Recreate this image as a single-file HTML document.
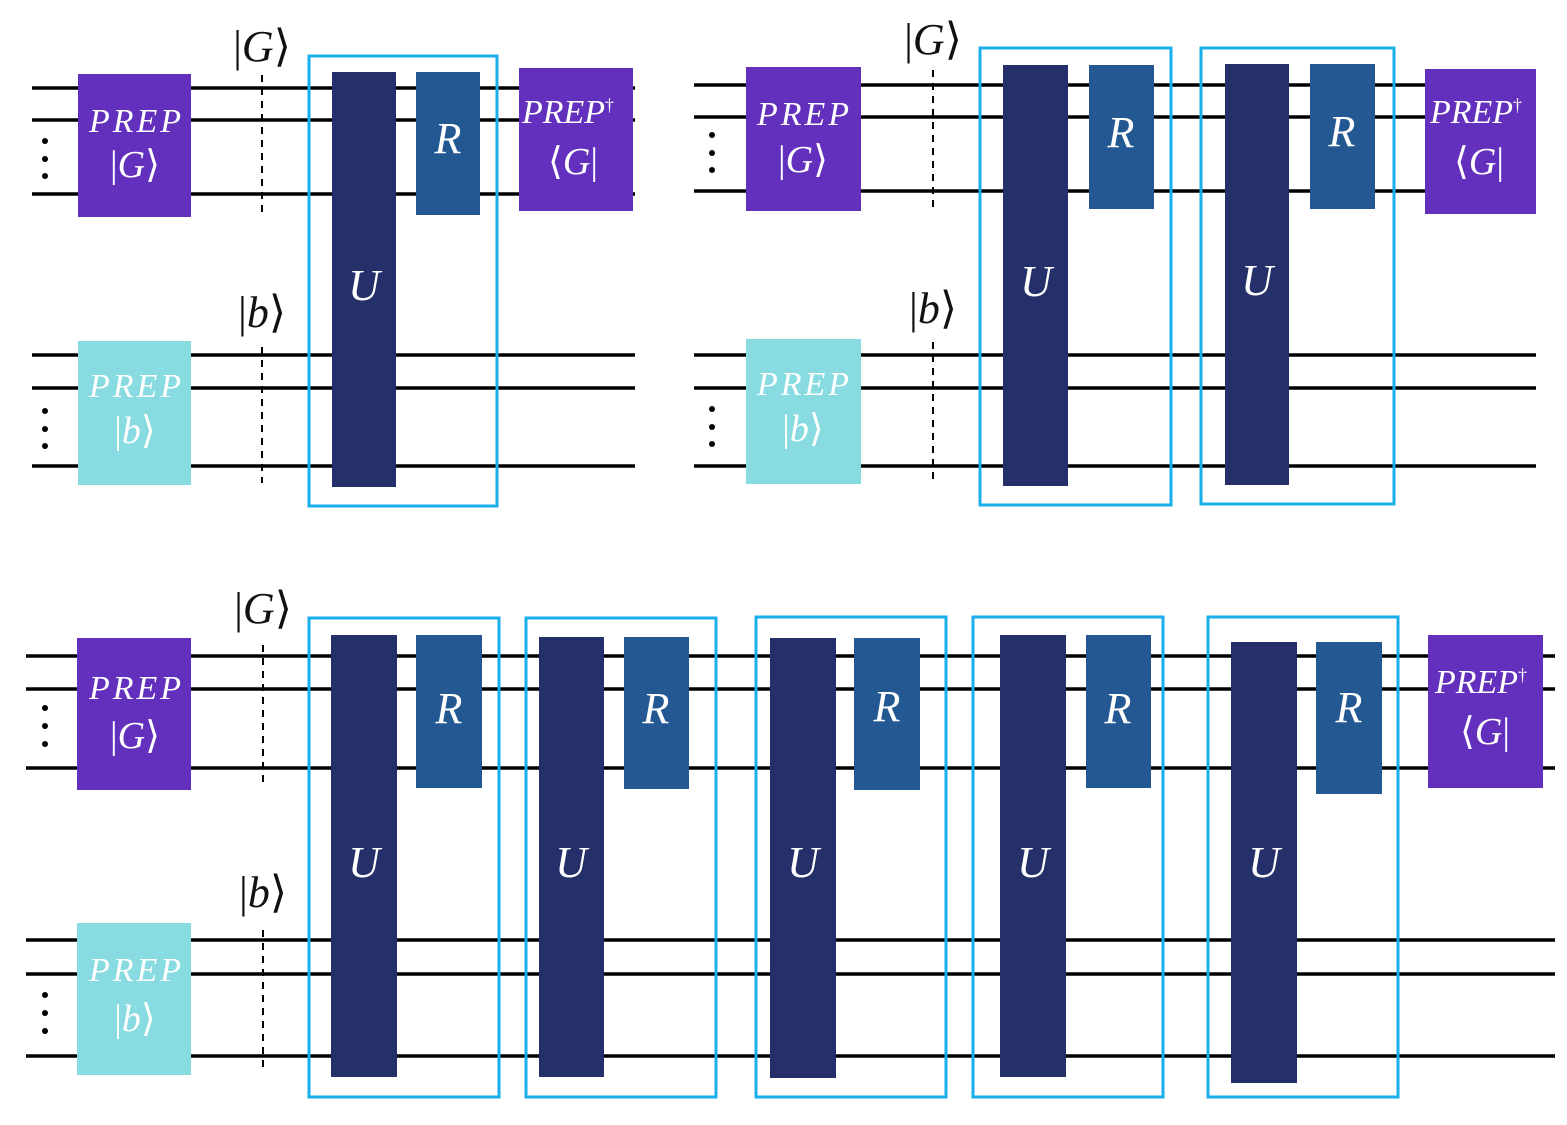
<!DOCTYPE html>
<html><head><meta charset="utf-8"><style>
html,body{margin:0;padding:0;background:#fff;}
svg{display:block}
text{font-family:"Liberation Serif","DejaVu Serif",serif;font-style:italic;text-anchor:middle}
.w{fill:#fff}
.k{fill:#111;font-style:normal}
</style></head><body>
<svg width="1567" height="1125" viewBox="0 0 1567 1125" xmlns="http://www.w3.org/2000/svg">
<g stroke="#000" stroke-width="3.5">
<line x1="32" y1="88" x2="635" y2="88"/><line x1="32" y1="120" x2="635" y2="120"/><line x1="32" y1="194" x2="635" y2="194"/>
<line x1="32" y1="355" x2="635" y2="355"/><line x1="32" y1="388" x2="635" y2="388"/><line x1="32" y1="466" x2="635" y2="466"/>
<line x1="694" y1="85" x2="1536" y2="85"/><line x1="694" y1="117" x2="1536" y2="117"/><line x1="694" y1="191" x2="1536" y2="191"/>
<line x1="694" y1="355" x2="1536" y2="355"/><line x1="694" y1="388" x2="1536" y2="388"/><line x1="694" y1="466" x2="1536" y2="466"/>
<line x1="26" y1="656" x2="1555" y2="656"/><line x1="26" y1="689" x2="1555" y2="689"/><line x1="26" y1="768" x2="1555" y2="768"/>
<line x1="26" y1="940" x2="1555" y2="940"/><line x1="26" y1="974" x2="1555" y2="974"/><line x1="26" y1="1056" x2="1555" y2="1056"/>
</g>
<g stroke="#000" stroke-width="2" stroke-dasharray="7,6">
<line x1="262" y1="75" x2="262" y2="213"/><line x1="262" y1="347" x2="262" y2="483"/>
<line x1="933" y1="70" x2="933" y2="210"/><line x1="933" y1="342" x2="933" y2="481"/>
<line x1="263" y1="645" x2="263" y2="787"/><line x1="263" y1="930" x2="263" y2="1073"/>
</g>
<g fill="#000">
<circle cx="45" cy="141" r="3"/><circle cx="45" cy="159" r="3"/><circle cx="45" cy="176" r="3"/>
<circle cx="45" cy="411" r="3"/><circle cx="45" cy="429" r="3"/><circle cx="45" cy="446" r="3"/>
<circle cx="712" cy="135" r="3"/><circle cx="712" cy="153" r="3"/><circle cx="712" cy="170" r="3"/>
<circle cx="712" cy="409" r="3"/><circle cx="712" cy="427" r="3"/><circle cx="712" cy="444" r="3"/>
<circle cx="45" cy="708" r="3"/><circle cx="45" cy="726" r="3"/><circle cx="45" cy="744" r="3"/>
<circle cx="45" cy="995" r="3"/><circle cx="45" cy="1013" r="3"/><circle cx="45" cy="1031" r="3"/>
</g>
<g class="k" font-size="44">
<text x="262" y="61" class="k">|<tspan font-style="italic">G</tspan>⟩</text>
<text x="262" y="327" class="k">|<tspan font-style="italic">b</tspan>⟩</text>
<text x="933" y="54" class="k">|<tspan font-style="italic">G</tspan>⟩</text>
<text x="933" y="323" class="k">|<tspan font-style="italic">b</tspan>⟩</text>
<text x="263" y="623" class="k">|<tspan font-style="italic">G</tspan>⟩</text>
<text x="263" y="907" class="k">|<tspan font-style="italic">b</tspan>⟩</text>
</g>
<g>
<rect x="78" y="74" width="113" height="143" fill="#6330BE"/>
<rect x="78" y="341" width="113" height="144" fill="#88DBE0"/>
<rect x="519" y="68" width="114" height="143" fill="#6330BE"/>
<rect x="746" y="67" width="115" height="144" fill="#6330BE"/>
<rect x="746" y="339" width="115" height="145" fill="#88DBE0"/>
<rect x="1425" y="69" width="111" height="145" fill="#6330BE"/>
<rect x="77" y="638" width="114" height="152" fill="#6330BE"/>
<rect x="77" y="923" width="114" height="152" fill="#88DBE0"/>
<rect x="1428" y="635" width="115" height="153" fill="#6330BE"/>
</g>
<g class="w" font-size="34">
<text x="135" y="132" textLength="92">PREP</text><text x="135" y="177" font-size="38" style="font-style:normal">|<tspan font-style="italic">G</tspan>⟩</text>
<text x="135" y="397" textLength="92">PREP</text><text x="135" y="443" font-size="38" style="font-style:normal">|<tspan font-style="italic">b</tspan>⟩</text>
<text x="568" y="123">PREP<tspan font-size="18" dy="-12" style="font-style:normal">†</tspan></text><text x="573" y="174" font-size="38" style="font-style:normal">⟨<tspan font-style="italic">G</tspan>|</text>
<text x="803" y="125" textLength="92">PREP</text><text x="803" y="172" font-size="38" style="font-style:normal">|<tspan font-style="italic">G</tspan>⟩</text>
<text x="803" y="395" textLength="92">PREP</text><text x="803" y="441" font-size="38" style="font-style:normal">|<tspan font-style="italic">b</tspan>⟩</text>
<text x="1476" y="123">PREP<tspan font-size="18" dy="-12" style="font-style:normal">†</tspan></text><text x="1479" y="174" font-size="38" style="font-style:normal">⟨<tspan font-style="italic">G</tspan>|</text>
<text x="135" y="699" textLength="92">PREP</text><text x="135" y="748" font-size="38" style="font-style:normal">|<tspan font-style="italic">G</tspan>⟩</text>
<text x="135" y="981" textLength="92">PREP</text><text x="135" y="1031" font-size="38" style="font-style:normal">|<tspan font-style="italic">b</tspan>⟩</text>
<text x="1481" y="693">PREP<tspan font-size="18" dy="-12" style="font-style:normal">†</tspan></text><text x="1485" y="744" font-size="38" style="font-style:normal">⟨<tspan font-style="italic">G</tspan>|</text>
</g>
<g fill="none" stroke="#1AAEEB" stroke-width="3">
<rect x="309" y="56" width="188" height="450"/>
<rect x="980" y="48" width="191" height="457"/>
<rect x="1201" y="48" width="193" height="456"/>
<rect x="309" y="618" width="190" height="479"/>
<rect x="526" y="618" width="190" height="479"/>
<rect x="756" y="617" width="190" height="480"/>
<rect x="973" y="617" width="190" height="480"/>
<rect x="1208" y="617" width="190" height="480"/>
</g>
<g fill="#25306A">
<rect x="332" y="72" width="64" height="415"/>
<rect x="1003" y="65" width="65" height="421"/>
<rect x="1225" y="64" width="64" height="421"/>
<rect x="331" y="635" width="66" height="442"/>
<rect x="539" y="637" width="65" height="440"/>
<rect x="770" y="638" width="66" height="440"/>
<rect x="1000" y="635" width="66" height="442"/>
<rect x="1231" y="642" width="66" height="441"/>
</g>
<g fill="#235893">
<rect x="416" y="72" width="64" height="143"/>
<rect x="1089" y="65" width="65" height="144"/>
<rect x="1310" y="64" width="65" height="145"/>
<rect x="416" y="635" width="66" height="153"/>
<rect x="624" y="637" width="65" height="152"/>
<rect x="854" y="638" width="66" height="152"/>
<rect x="1086" y="635" width="65" height="153"/>
<rect x="1316" y="642" width="66" height="152"/>
</g>
<g class="w" font-size="44">
<text x="364" y="300">U</text><text x="448" y="153">R</text>
<text x="1036" y="296">U</text><text x="1121" y="147">R</text>
<text x="1257" y="295">U</text><text x="1342" y="146">R</text>
<text x="364" y="877">U</text><text x="449" y="723">R</text>
<text x="571" y="877">U</text><text x="656" y="723">R</text>
<text x="803" y="877">U</text><text x="887" y="721">R</text>
<text x="1033" y="877">U</text><text x="1118" y="723">R</text>
<text x="1264" y="877">U</text><text x="1349" y="722">R</text>
</g>
</svg>
</body></html>
